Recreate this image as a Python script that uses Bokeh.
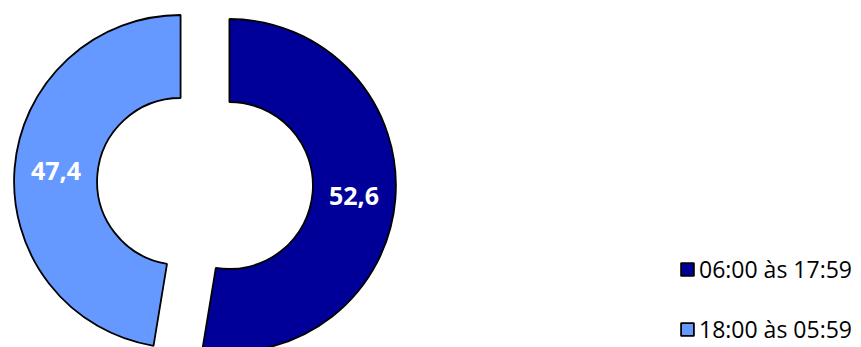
import math
from bokeh.plotting import figure
from bokeh.models import Range1d, ColumnDataSource, Legend, LegendItem
from bokeh.core.properties import value
from bokeh.embed import file_html
from bokeh.resources import INLINE

categories = ["06:00 às 17:59", "18:00 às 05:59"]
values = [52.6, 47.4]
labels = ["52,6", "47,4"]
colors = ["#000099", "#6699FF"]

W, H = 861, 347
p = figure(width=W, height=H, output_backend="svg", toolbar_location=None,
           x_range=Range1d(0, W), y_range=Range1d(0, H), min_border=0)
p.axis.visible = False
p.grid.visible = False
p.outline_line_color = None

cx, cy = 204.5, H - 183
r_in, r_out = 83.5, 166.5
explode = 24.5

total = sum(values)
start = math.pi / 2
starts, ends, xs, ys, lx, ly = [], [], [], [], [], []
for v in values:
    sweep = v / total * 2 * math.pi
    end = start - sweep
    mid = start - sweep / 2
    x0 = cx + explode * math.cos(mid)
    y0 = cy + explode * math.sin(mid)
    starts.append(start); ends.append(end); xs.append(x0); ys.append(y0)
    rm = (r_in + r_out) / 2
    lx.append(x0 + rm * math.cos(mid)); ly.append(y0 + rm * math.sin(mid))
    start = end

src = ColumnDataSource(dict(lx=lx, ly=ly, lab=labels))
rends = []
for i in range(len(values)):
    r = p.annular_wedge(x=[xs[i]], y=[ys[i]], inner_radius=r_in, outer_radius=r_out,
                        start_angle=[starts[i]], end_angle=[ends[i]], direction="clock",
                        fill_color=colors[i], line_color="black", line_width=1.8)
    rends.append(r)

p.text(x="lx", y="ly", text="lab", source=src, text_color="white",
       text_font=value("Open Sans"), text_font_style="bold", text_font_size="25px",
       text_align="center", text_baseline="middle")

legend = Legend(items=[LegendItem(label=categories[i], renderers=[rends[i]]) for i in range(2)],
                location=(679, 2), orientation="vertical",
                label_text_font="Open Sans", label_text_font_size="23px",
                label_text_color="black",
                glyph_width=16, glyph_height=16, label_standoff=4,
                label_height=30, spacing=28, padding=0, margin=0,
                border_line_alpha=0, background_fill_alpha=0)
p.add_layout(legend, "center")

open("out.html", "w").write(file_html(p, INLINE))
